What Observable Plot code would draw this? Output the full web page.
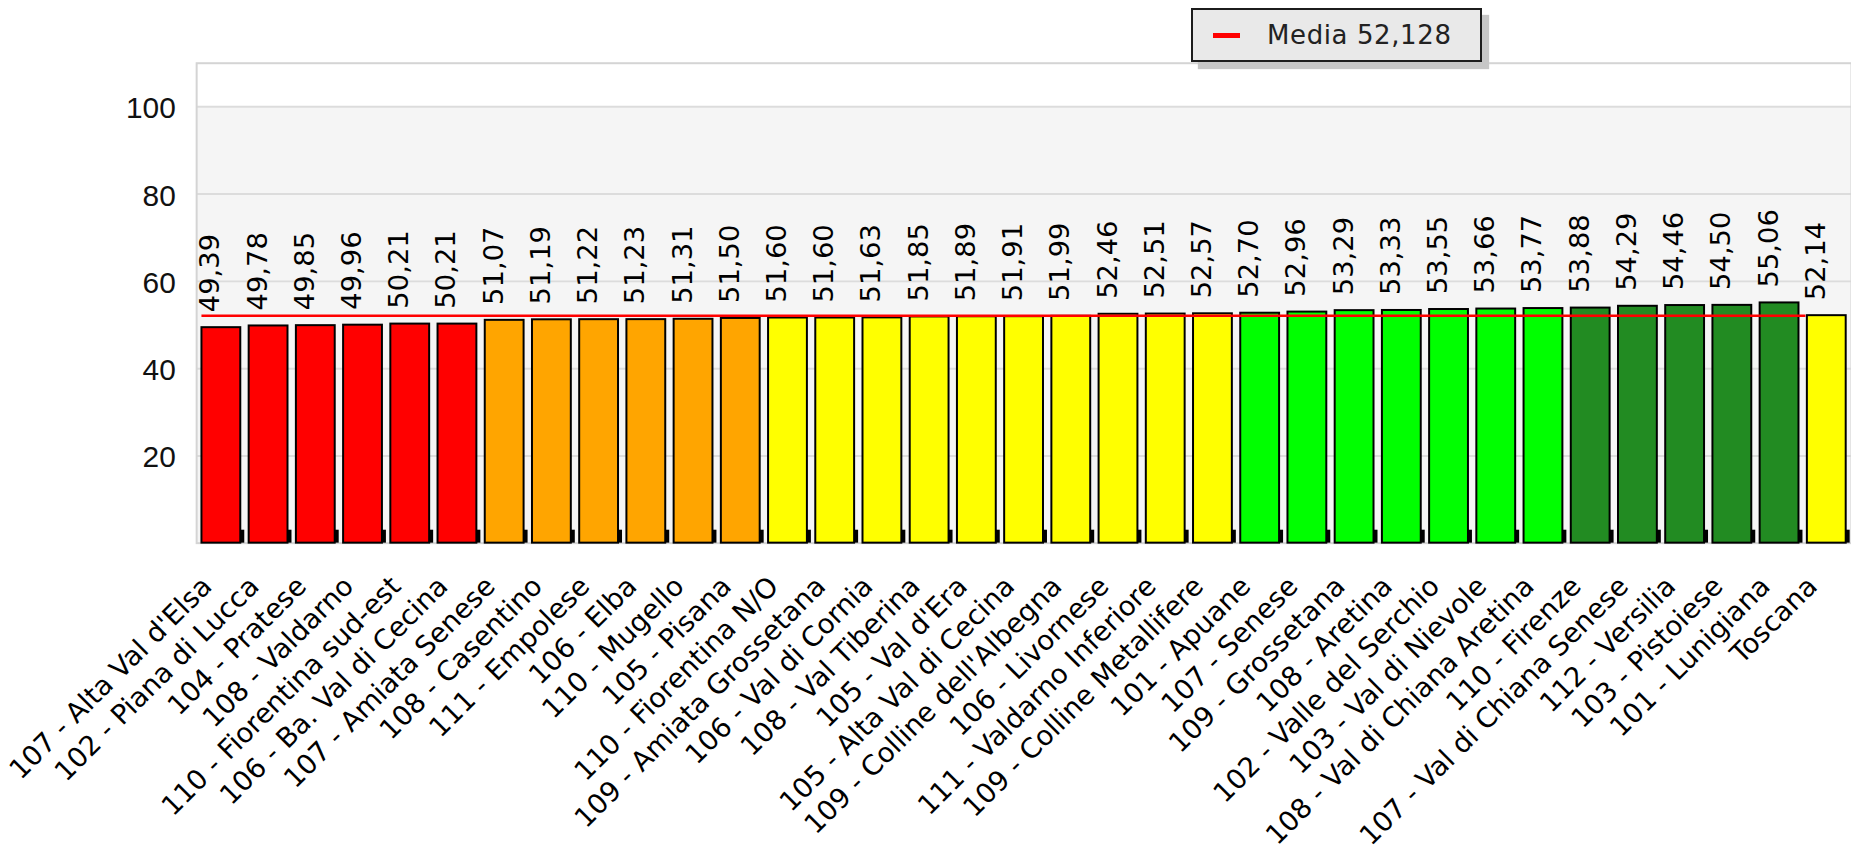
<!DOCTYPE html>
<html lang="it">
<head>
<meta charset="utf-8">
<title>Media per zona</title>
<script src="https://cdn.jsdelivr.net/npm/d3@7"></script>
<script src="https://cdn.jsdelivr.net/npm/@observablehq/plot@0.6"></script>
<style>
  html, body { margin: 0; padding: 0; background: #ffffff; overflow: hidden; }
  #wrap { position: relative; width: 1851px; height: 855px; }
  #chart svg { display: block; }
  .legenda {
    position: absolute; left: 1191px; top: 8px;
    width: 291px; height: 54px; box-sizing: border-box;
    border: 2px solid #1c1c1c; background: #e9e9e9;
    box-shadow: 7px 7px 1px #c6c6c6;
    display: flex; align-items: center;
    font-family: "DejaVu Sans", Verdana, sans-serif; font-size: 26px; color: #222;
    letter-spacing: 0.6px;
  }
  .legenda .segno { width: 27px; height: 5px; background: #ff0000; margin-left: 20px; margin-right: 27px; }
</style>
</head>
<body>
<div id="wrap">
  <div id="chart"></div>
  <div class="legenda"><span class="segno"></span><span id="testo-media"></span></div>
</div>
<script>
// Zone (ordinate per valore) e valore regionale in coda
const zone = [
  "107 - Alta Val d'Elsa", "102 - Piana di Lucca", "104 - Pratese", "108 - Valdarno",
  "110 - Fiorentina sud-est", "106 - Ba. Val di Cecina", "107 - Amiata Senese", "108 - Casentino",
  "111 - Empolese", "106 - Elba", "110 - Mugello", "105 - Pisana",
  "110 - Fiorentina N/O", "109 - Amiata Grossetana", "106 - Val di Cornia", "108 - Val Tiberina",
  "105 - Val d'Era", "105 - Alta Val di Cecina", "109 - Colline dell'Albegna", "106 - Livornese",
  "111 - Valdarno Inferiore", "109 - Colline Metallifere", "101 - Apuane", "107 - Senese",
  "109 - Grossetana", "108 - Aretina", "102 - Valle del Serchio", "103 - Val di Nievole",
  "108 - Val di Chiana Aretina", "110 - Firenze", "107 - Val di Chiana Senese", "112 - Versilia",
  "103 - Pistoiese", "101 - Lunigiana", "Toscana"
];
const valori = [
  49.39, 49.78, 49.85, 49.96, 50.21, 50.21, 51.07, 51.19,
  51.22, 51.23, 51.31, 51.50, 51.60, 51.60, 51.63, 51.85,
  51.89, 51.91, 51.99, 52.46, 52.51, 52.57, 52.70, 52.96,
  53.29, 53.33, 53.55, 53.66, 53.77, 53.88, 54.29, 54.46,
  54.50, 55.06, 52.14
];
const fasce = [
  "molto sotto", "molto sotto", "molto sotto", "molto sotto", "molto sotto", "molto sotto",
  "sotto", "sotto", "sotto", "sotto", "sotto", "sotto",
  "in media", "in media", "in media", "in media", "in media", "in media", "in media",
  "in media", "in media", "in media",
  "sopra", "sopra", "sopra", "sopra", "sopra", "sopra", "sopra",
  "molto sopra", "molto sopra", "molto sopra", "molto sopra", "molto sopra",
  "in media"
];
const media = 52.128;
const tickY = [20, 40, 60, 80, 100];
const fasceDominio = ["molto sotto", "sotto", "in media", "sopra", "molto sopra"];
const fasceColori = ["#ff0000", "#ffa500", "#ffff00", "#00ff00", "#228b22"];

const dati = zone.map((zona, i) => ({zona, valore: valori[i], fascia: fasce[i]}));

// Formato numerico italiano (virgola decimale)
const it = d3.formatLocale({decimal: ",", thousands: ".", grouping: [3], currency: ["€", ""]});
const fmt2 = it.format(".2f");
const fmt3 = it.format(".3f");

// La linea della media copre le zone, non il valore regionale
const lineaMedia = [{valore: media, da: zone[0], a: zone[zone.length - 2]}];

const font = "DejaVu Sans, Verdana, sans-serif";

const grafico = Plot.plot({
  width: 1859,
  height: 855,
  marginLeft: 197,
  marginRight: 0,
  marginTop: 63,
  marginBottom: 310,
  style: {fontFamily: font, fontSize: "28px", color: "#111", background: "transparent"},
  x: {type: "band", domain: zone, paddingInner: 0.1775, paddingOuter: 0.112, round: false, axis: null},
  y: {domain: [0, 110], axis: null},
  color: {domain: fasceDominio, range: fasceColori},
  marks: [
    // fondo grigio fino all'ultima tacca
    Plot.rectY([tickY[tickY.length - 1]], {y: d => d, fill: "#f5f5f5"}),
    Plot.ruleY(tickY, {stroke: "#dcdcdc", strokeWidth: 2}),
    Plot.frame({stroke: "#d4d4d4", strokeWidth: 2}),
    // ombra alla base di ogni barra
    Plot.rectY(dati, {x: "zona", y1: 0, y2: 0, insetTop: -13, insetLeft: 38, insetRight: -4, fill: "#000"}),
    Plot.barY(dati, {x: "zona", y: "valore", fill: "fascia", stroke: "#000", strokeWidth: 2}),
    Plot.ruleY(lineaMedia, {y: "valore", x1: "da", x2: "a", insetRight: -7, stroke: "#ff0000", strokeWidth: 2.5}),
    Plot.text(dati, {
      x: "zona", y: "valore", text: d => fmt2(d.valore),
      rotate: -90, textAnchor: "start", lineAnchor: "bottom",
      dx: -2, dy: -15.5, fontSize: 27.5, fill: "#000"
    }),
    Plot.text(dati, {
      x: "zona", frameAnchor: "bottom", text: "zona",
      rotate: -45, textAnchor: "end", lineAnchor: "bottom",
      dx: -8, dy: 45, fontSize: 27.5, fill: "#000"
    }),
    Plot.axisY(tickY, {tickSize: 0, tickPadding: 21, fontSize: 30, fontFamily: "Liberation Sans, Arial, sans-serif", dy: 2, label: null})
  ]
});

document.getElementById("chart").appendChild(grafico);
document.getElementById("testo-media").textContent = "Media " + fmt3(media);
</script>
</body>
</html>
